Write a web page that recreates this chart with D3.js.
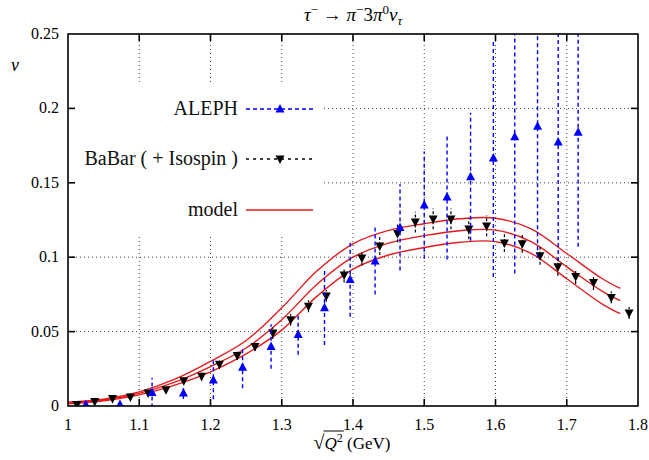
<!DOCTYPE html>
<html>
<head>
<meta charset="utf-8">
<script src="https://cdn.jsdelivr.net/npm/d3@7"></script>
<style>
  body { margin: 0; background: #fff; }
</style>
</head>
<body>
<svg id="chart"></svg>
<script>
var width = 649, height = 460;
var margin = {left: 68, right: 11, top: 34, bottom: 54};
var serif = "'Liberation Serif', 'Times New Roman', 'DejaVu Serif', serif";

// data
var xTicks = [1, 1.1, 1.2, 1.3, 1.4, 1.5, 1.6, 1.7, 1.8];
var yTicks = [0, 0.05, 0.1, 0.15, 0.2, 0.25];

var alephX = [1.025, 1.073, 1.118, 1.162, 1.204, 1.245, 1.285, 1.323, 1.360, 1.396, 1.431, 1.466, 1.500, 1.532, 1.565, 1.597, 1.627, 1.659, 1.688, 1.716];
var alephY = [0.001, 0.001, 0.009, 0.0087, 0.0175, 0.026, 0.040, 0.048, 0.066, 0.085, 0.0975, 0.120, 0.135, 0.1405, 0.154, 0.1667, 0.181, 0.188, 0.1775, 0.184];
var alephErr = [0, 0, 0.010, 0.004, 0.013, 0.014, 0.015, 0.0135, 0.025, 0.025, 0.0225, 0.029, 0.036, 0.042, 0.043, 0.080, 0.092, 0.088, 0.080, 0.077];

var babarX = [1.0125, 1.0375, 1.0625, 1.0875, 1.1125, 1.1375, 1.1625, 1.1875, 1.2125, 1.2375, 1.2625, 1.2875, 1.3125, 1.3375, 1.3625, 1.3875, 1.4125, 1.4375, 1.4625, 1.4875, 1.5125, 1.5375, 1.5625, 1.5875, 1.6125, 1.6375, 1.6625, 1.6875, 1.7125, 1.7375, 1.7625, 1.7875];
var babarY = [0.001, 0.003, 0.005, 0.006, 0.0087, 0.011, 0.017, 0.020, 0.028, 0.034, 0.040, 0.049, 0.058, 0.067, 0.074, 0.088, 0.0995, 0.1075, 0.116, 0.1236, 0.1257, 0.1257, 0.119, 0.121, 0.1095, 0.109, 0.101, 0.0935, 0.087, 0.083, 0.073, 0.0625];
var babarErr = [0.001, 0.001, 0.001, 0.001, 0.002, 0.002, 0.002, 0.003, 0.003, 0.003, 0.003, 0.004, 0.004, 0.004, 0.004, 0.005, 0.005, 0.006, 0.006, 0.007, 0.007, 0.007, 0.007, 0.007, 0.006, 0.006, 0.006, 0.006, 0.005, 0.005, 0.004, 0.004];

var modelX = [1.00, 1.05, 1.10, 1.15, 1.20, 1.25, 1.30, 1.35, 1.40, 1.45, 1.50, 1.55, 1.60, 1.65, 1.70, 1.75, 1.775];
var modelMid = [0.002, 0.004, 0.0085, 0.016, 0.0265, 0.039, 0.058, 0.082, 0.100, 0.1095, 0.1145, 0.1178, 0.1182, 0.1105, 0.0935, 0.077, 0.0708];
var modelUp = [0.0025, 0.0045, 0.0095, 0.018, 0.030, 0.044, 0.066, 0.091, 0.109, 0.118, 0.1225, 0.1258, 0.1262, 0.119, 0.1025, 0.0855, 0.079];
var modelLow = [0.0015, 0.0035, 0.0075, 0.014, 0.023, 0.035, 0.051, 0.074, 0.092, 0.1015, 0.1065, 0.110, 0.1105, 0.1025, 0.0855, 0.0685, 0.062];

var x = d3.scaleLinear().domain([1, 1.8]).range([margin.left, width - margin.right]);
var y = d3.scaleLinear().domain([0, 0.25]).range([height - margin.bottom, margin.top]);

var svg = d3.select("#chart").attr("width", width).attr("height", height)
    .attr("font-family", serif);

svg.append("clipPath").attr("id", "plot-clip").append("rect")
    .attr("x", x(1)).attr("y", y(0.25))
    .attr("width", x(1.8) - x(1)).attr("height", y(0) - y(0.25));

// grid
var gGrid = svg.append("g")
    .style("stroke", "#444").style("stroke-width", 1).style("stroke-dasharray", "1,3");
gGrid.selectAll(".vx").data(xTicks.slice(1, -1)).join("line")
    .attr("x1", d => x(d)).attr("x2", d => x(d))
    .attr("y1", y(0)).attr("y2", y(0.25));
gGrid.selectAll(".hy").data(yTicks.slice(1, -1)).join("line")
    .attr("x1", x(1)).attr("x2", x(1.8))
    .attr("y1", d => y(d)).attr("y2", d => y(d));

// opaque key box hides the grid behind the legend
svg.append("rect")
    .attr("x", x(1) + 1).attr("y", 84)
    .attr("width", 255).attr("height", 152)
    .style("fill", "#fff");

function triUp(cx, cy) {
    return "M" + cx + "," + (cy - 5) + "L" + (cx + 4.5) + "," + (cy + 3.5) + "L" + (cx - 4.5) + "," + (cy + 3.5) + "Z";
}
function triDown(cx, cy) {
    return "M" + cx + "," + (cy + 5) + "L" + (cx + 4.5) + "," + (cy - 3.5) + "L" + (cx - 4.5) + "," + (cy - 3.5) + "Z";
}

var gData = svg.append("g").attr("clip-path", "url(#plot-clip)");

// model band
var line = d3.line().curve(d3.curveCatmullRom.alpha(0.5));
[modelUp, modelMid, modelLow].forEach(function(vals) {
    gData.append("path")
        .attr("d", line(modelX.map((d, i) => [x(d), y(vals[i])])))
        .style("fill", "none").style("stroke", "#e41a1c").style("stroke-width", 1.4);
});

// BaBar
var babar = babarX.map((d, i) => ({x: d, y: babarY[i], e: babarErr[i]}));
gData.selectAll(".bbar").data(babar).join("line")
    .attr("x1", d => x(d.x)).attr("x2", d => x(d.x))
    .attr("y1", d => y(d.y - d.e)).attr("y2", d => y(d.y + d.e))
    .style("stroke", "#000").style("stroke-width", 1.2).style("stroke-dasharray", "3,2");
gData.selectAll(".bpt").data(babar).join("path")
    .attr("d", d => triDown(x(d.x), y(d.y)))
    .style("fill", "#000");

// ALEPH
var aleph = alephX.map((d, i) => ({x: d, y: alephY[i], e: alephErr[i]}));
gData.selectAll(".abar").data(aleph.filter(d => d.e > 0)).join("line")
    .attr("x1", d => x(d.x)).attr("x2", d => x(d.x))
    .attr("y1", d => y(d.y - d.e)).attr("y2", d => y(d.y + d.e))
    .style("stroke", "#0000ff").style("stroke-width", 1.4).style("stroke-dasharray", "4,3");
gData.selectAll(".apt").data(aleph).join("path")
    .attr("d", d => triUp(x(d.x), y(d.y)))
    .style("fill", "#0000ff");

// frame and inward ticks
var frame = svg.append("g").style("stroke", "#000").style("stroke-width", 1.6);
frame.append("rect")
    .attr("x", x(1)).attr("y", y(0.25))
    .attr("width", x(1.8) - x(1)).attr("height", y(0) - y(0.25))
    .style("fill", "none");
xTicks.slice(1, -1).forEach(function(t) {
    frame.append("line").attr("x1", x(t)).attr("x2", x(t)).attr("y1", y(0)).attr("y2", y(0) - 7);
    frame.append("line").attr("x1", x(t)).attr("x2", x(t)).attr("y1", y(0.25)).attr("y2", y(0.25) + 7);
});
yTicks.slice(1, -1).forEach(function(t) {
    frame.append("line").attr("x1", x(1)).attr("x2", x(1) + 7).attr("y1", y(t)).attr("y2", y(t));
    frame.append("line").attr("x1", x(1.8)).attr("x2", x(1.8) - 7).attr("y1", y(t)).attr("y2", y(t));
});

// tick labels
svg.append("g").selectAll("text").data(xTicks).join("text")
    .attr("x", d => x(d)).attr("y", y(0) + 24)
    .attr("text-anchor", "middle").attr("font-family", serif).style("font-size", "16px")
    .text(d => d3.format("")(d));
svg.append("g").selectAll("text").data(yTicks).join("text")
    .attr("x", x(1) - 9).attr("y", d => y(d) + 5)
    .attr("text-anchor", "end").attr("font-family", serif).style("font-size", "16px")
    .text(d => d3.format("")(d));

// title
var title = svg.append("text")
    .attr("x", (x(1) + x(1.8)) / 2).attr("y", 21).attr("font-family", serif)
    .attr("text-anchor", "middle").style("font-size", "19px");
title.append("tspan").style("font-style", "italic").text("τ");
title.append("tspan").attr("dy", -7).style("font-size", "13px").text("−");
title.append("tspan").attr("dy", 7).text(" → ");
title.append("tspan").style("font-style", "italic").text("π");
title.append("tspan").attr("dy", -7).style("font-size", "13px").text("−");
title.append("tspan").attr("dy", 7).text("3");
title.append("tspan").style("font-style", "italic").text("π");
title.append("tspan").attr("dy", -7).style("font-size", "13px").text("0");
title.append("tspan").attr("dy", 7).style("font-style", "italic").text("ν");
title.append("tspan").attr("dy", 4).style("font-size", "13px").style("font-style", "italic").text("τ");

// axis labels
svg.append("text").attr("x", 11).attr("y", 71).attr("font-family", serif)
    .style("font-size", "18px").style("font-style", "italic").text("v");

var xl = svg.append("text").attr("x", 352).attr("y", 449).attr("font-family", serif)
    .attr("text-anchor", "middle").style("font-size", "17px");
xl.append("tspan").style("font-size", "20px").text("√");
xl.append("tspan").style("font-style", "italic").text("Q");
xl.append("tspan").attr("dy", -7).style("font-size", "12px").text("2");
xl.append("tspan").attr("dy", 7).text(" (GeV)");
var node = xl.node();
var ox1 = node.getEndPositionOfChar(0).x, ox2 = node.getEndPositionOfChar(2).x;
svg.append("line")
    .attr("x1", ox1 - 1).attr("x2", ox2 + 1)
    .attr("y1", 431).attr("y2", 431)
    .style("stroke", "#000").style("stroke-width", 1);

// legend
var legend = [
    {label: "ALEPH", y: 109, color: "#0000ff", dash: "4,3", mark: "up"},
    {label: "BaBar ( + Isospin )", y: 159, color: "#000", dash: "3,4", mark: "down"},
    {label: "model", y: 210, color: "#e41a1c", dash: null, mark: null}
];
var gLeg = svg.append("g");
legend.forEach(function(d) {
    gLeg.append("text").attr("x", 238).attr("y", d.y + 6).attr("font-family", serif)
        .attr("text-anchor", "end").style("font-size", "20px").style("fill", "#111").text(d.label);
    gLeg.append("line").attr("x1", 246).attr("x2", 313).attr("y1", d.y).attr("y2", d.y)
        .style("stroke", d.color).style("stroke-width", d.mark ? 1.3 : 1.4)
        .style("stroke-dasharray", d.dash);
    if (d.mark == "up") gLeg.append("path").attr("d", triUp(280, d.y)).style("fill", d.color);
    if (d.mark == "down") gLeg.append("path").attr("d", triDown(280, d.y)).style("fill", d.color);
});
</script>
</body>
</html>
